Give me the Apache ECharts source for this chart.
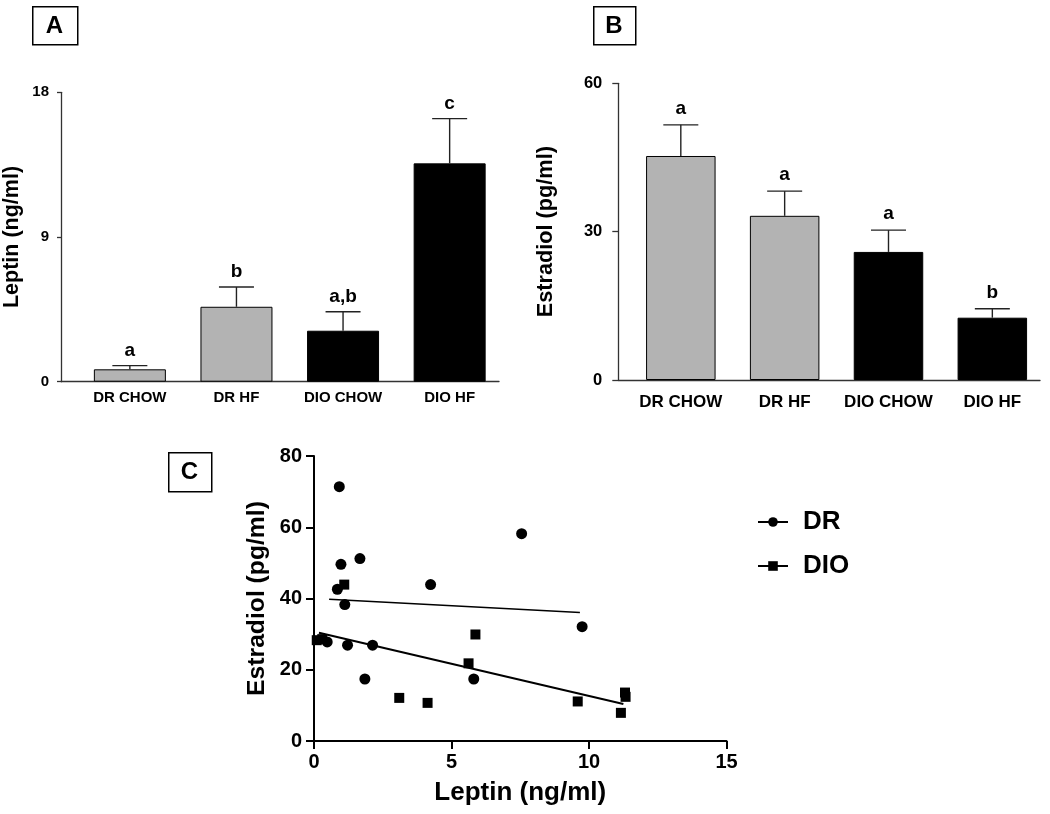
<!DOCTYPE html>
<html><head><meta charset="utf-8">
<script src="https://cdn.jsdelivr.net/npm/echarts@6/dist/echarts.min.js"></script>
<style>html,body{margin:0;padding:0;background:#fff}#c{width:1050px;height:814px}</style>
</head><body><div id="c"></div>
<script>
// ---- data ----
const categories = ['DR CHOW', 'DR HF', 'DIO CHOW', 'DIO HF'];
const leptinMean = [0.77, 4.66, 3.17, 13.58];
const leptinErr = [0.23, 1.23, 1.18, 2.78];
const leptinLetters = ['a', 'b', 'a,b', 'c'];
const estradiolMean = [45.3, 33.2, 25.9, 12.6];
const estradiolErr = [6.3, 5.0, 4.4, 1.8];
const estradiolLetters = ['a', 'a', 'a', 'b'];
const barColors = ['#b3b3b3', '#b3b3b3', '#000000', '#000000'];
const drPoints = [
  [0.92, 71.4], [7.55, 58.2], [0.98, 49.6], [1.67, 51.2], [0.85, 42.6],
  [4.24, 43.9], [1.12, 38.3], [9.75, 32.1], [0.48, 27.8], [1.22, 26.9],
  [2.13, 26.9], [1.85, 17.4], [5.81, 17.4]
];
const dioPoints = [
  [0.10, 28.3], [0.30, 28.6], [1.10, 43.9], [5.87, 29.9], [5.62, 21.8],
  [3.10, 12.1], [4.13, 10.7], [9.59, 11.1], [11.31, 13.6], [11.33, 12.4],
  [11.16, 7.9]
];
const drFit = [[0.55, 39.8], [9.67, 36.1]];
const dioFit = [[0.18, 30.4], [11.25, 10.4]];
const seriesNames = ['DR', 'DIO'];

// ---- chart ----
const FONT = 'Liberation Sans, Arial, sans-serif';
const chart = echarts.init(document.getElementById('c'), null, {renderer: 'canvas'});

function barData(means) {
  return means.map((v, i) => ({value: [i, v], itemStyle: {color: barColors[i]}}));
}
function errRender(letters, gap, fs) {
  return function (params, api) {
    const i = api.value(0), m = api.value(1), e = api.value(2);
    const base = api.coord([i, m]);
    const top = api.coord([i, m + e]);
    const half = 17.5;
    const st = {stroke: '#222', lineWidth: 1.4};
    return {
      type: 'group',
      children: [
        {type: 'line', shape: {x1: base[0], y1: base[1], x2: top[0], y2: top[1]}, style: st},
        {type: 'line', shape: {x1: top[0] - half, y1: top[1], x2: top[0] + half, y2: top[1]}, style: st},
        {type: 'text', style: {x: top[0], y: top[1] - gap, text: letters[params.dataIndex],
          fill: '#000', font: 'bold ' + fs + 'px ' + FONT, align: 'center', verticalAlign: 'middle'}}
      ]
    };
  };
}
function errData(means, errs) { return means.map((v, i) => [i, v, errs[i]]); }

const barYAxisCommon = (min, max, interval, name, nameGap, nameSize, labelSize, tickLen, margin) => ({
  type: 'value', min, max, interval,
  axisLine: {show: true, onZero: false, lineStyle: {color: '#333', width: 1.3}},
  axisTick: {show: true, length: tickLen, lineStyle: {color: '#333', width: 1.3}},
  axisLabel: {color: '#000', fontWeight: 'bold', fontSize: labelSize, fontFamily: FONT, margin},
  splitLine: {show: false},
  name, nameLocation: 'middle', nameGap,
  nameTextStyle: {color: '#000', fontWeight: 'bold', fontSize: nameSize, fontFamily: FONT}
});
const barXAxisCommon = (min, max, fs, margin) => ({
  type: 'value', min, max,
  axisLine: {show: true, onZero: false, lineStyle: {color: '#333', width: 1.3}},
  axisTick: {show: false},
  splitLine: {show: false},
  axisLabel: {customValues: [0, 1, 2, 3], formatter: v => categories[v], color: '#000',
    fontWeight: 'bold', fontSize: fs, fontFamily: FONT, margin}
});

const scatterAxisStyle = {
  axisLine: {show: true, onZero: false, lineStyle: {color: '#000', width: 2}},
  axisTick: {show: true, length: 8, lineStyle: {color: '#000', width: 2}},
  splitLine: {show: false}
};

const option = {
  backgroundColor: '#fff',
  animation: false,
  textStyle: {fontFamily: FONT},
  grid: [
    {left: 60, top: 92.3, width: 439, height: 289.4},
    {left: 618.3, top: 83.3, width: 421.7, height: 296.7},
    {left: 314, top: 456, width: 412.5, height: 285}
  ],
  xAxis: [
    Object.assign({gridIndex: 0}, barXAxisCommon(-0.646, 3.463, 15, 9)),
    Object.assign({gridIndex: 1}, barXAxisCommon(-0.602, 3.459, 17, 14)),
    Object.assign({gridIndex: 2, type: 'value', min: 0, max: 15, interval: 5,
      axisLabel: {color: '#000', fontWeight: 'bold', fontSize: 20, fontFamily: FONT, margin: 11},
      name: 'Leptin (ng/ml)', nameLocation: 'middle', nameGap: 39,
      nameTextStyle: {color: '#000', fontWeight: 'bold', fontSize: 26, fontFamily: FONT}
    }, scatterAxisStyle)
  ],
  yAxis: [
    Object.assign({gridIndex: 0}, barYAxisCommon(0, 18, 9, 'Leptin (ng/ml)', 38, 21.5, 15, 4, 12)),
    Object.assign({gridIndex: 1}, barYAxisCommon(0, 60, 30, 'Estradiol (pg/ml)', 61, 21.7, 16.5, 6, 16)),
    Object.assign({gridIndex: 2, type: 'value', min: 0, max: 80, interval: 20,
      axisLabel: {color: '#000', fontWeight: 'bold', fontSize: 20, fontFamily: FONT, margin: 12},
      name: 'Estradiol (pg/ml)', nameLocation: 'middle', nameGap: 44,
      nameTextStyle: {color: '#000', fontWeight: 'bold', fontSize: 24.7, fontFamily: FONT}
    }, scatterAxisStyle)
  ],
  legend: {
    data: seriesNames,
    orient: 'vertical', left: 752, top: 504,
    itemWidth: 30, itemHeight: 12, itemGap: 18,
    textStyle: {color: '#000', fontWeight: 'bold', fontSize: 26, fontFamily: FONT, padding: [0, 0, 0, 10]},
    selectedMode: false
  },
  series: [
    {type: 'line', name: seriesNames[0], xAxisIndex: 2, yAxisIndex: 2, data: drFit,
      symbol: 'circle', symbolSize: 11, showSymbol: false,
      lineStyle: {color: '#000', width: 1.5}, itemStyle: {color: '#000'}, z: 3},
    {type: 'line', name: seriesNames[1], xAxisIndex: 2, yAxisIndex: 2, data: dioFit,
      symbol: 'rect', symbolSize: 10, showSymbol: false,
      lineStyle: {color: '#000', width: 2}, itemStyle: {color: '#000'}, z: 3},
    {type: 'scatter', name: seriesNames[0], xAxisIndex: 2, yAxisIndex: 2, data: drPoints,
      symbol: 'circle', symbolSize: 11, itemStyle: {color: '#000', opacity: 1}, z: 4},
    {type: 'scatter', name: seriesNames[1], xAxisIndex: 2, yAxisIndex: 2, data: dioPoints,
      symbol: 'rect', symbolSize: 10, itemStyle: {color: '#000', opacity: 1}, z: 4},
    {type: 'bar', xAxisIndex: 0, yAxisIndex: 0, barWidth: 72, data: barData(leptinMean),
      itemStyle: {borderColor: '#000', borderWidth: 1}},
    {type: 'custom', xAxisIndex: 0, yAxisIndex: 0, data: errData(leptinMean, leptinErr),
      renderItem: errRender(leptinLetters, 15, 19), z: 5},
    {type: 'bar', xAxisIndex: 1, yAxisIndex: 1, barWidth: 69.5, data: barData(estradiolMean),
      itemStyle: {borderColor: '#000', borderWidth: 1}},
    {type: 'custom', xAxisIndex: 1, yAxisIndex: 1, data: errData(estradiolMean, estradiolErr),
      renderItem: errRender(estradiolLetters, 16, 19), z: 5}
  ],
  graphic: [
    {type: 'rect', left: 32, top: 6, shape: {width: 45, height: 38}, style: {fill: '#fff', stroke: '#000', lineWidth: 1.5}},
    {type: 'text', position: [54.5, 26], style: {text: 'A', font: 'bold 24px ' + FONT, fill: '#000', align: 'center', verticalAlign: 'middle'}},
    {type: 'rect', left: 593, top: 6, shape: {width: 42, height: 38}, style: {fill: '#fff', stroke: '#000', lineWidth: 1.5}},
    {type: 'text', position: [614, 26], style: {text: 'B', font: 'bold 24px ' + FONT, fill: '#000', align: 'center', verticalAlign: 'middle'}},
    {type: 'rect', left: 168, top: 452, shape: {width: 43, height: 39}, style: {fill: '#fff', stroke: '#000', lineWidth: 1.5}},
    {type: 'text', position: [189.5, 472], style: {text: 'C', font: 'bold 24px ' + FONT, fill: '#000', align: 'center', verticalAlign: 'middle'}}
  ]
};
chart.setOption(option);
</script>
</body></html>
